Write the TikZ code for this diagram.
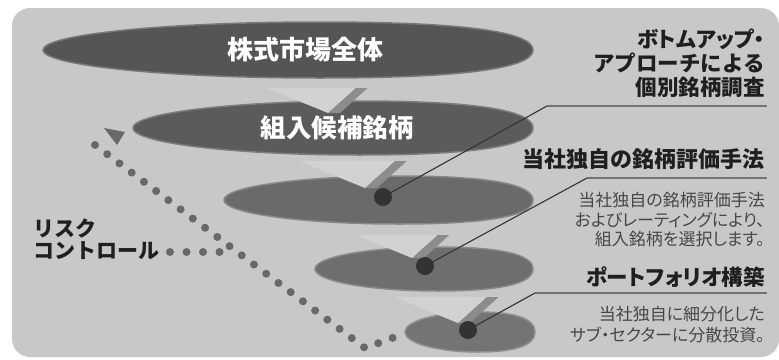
\documentclass[tikz,border=0pt]{standalone}
\usepackage{fontspec}
\newfontfamily\jp{Noto Sans CJK JP}
\newfontfamily\jpp[RawFeature=+palt]{Noto Sans CJK JP}
\definecolor{bg}{HTML}{C8C8C8}
\definecolor{eA}{HTML}{555555}
\definecolor{eB}{HTML}{5B5B5B}
\definecolor{eC}{HTML}{6A6A6A}
\definecolor{eD}{HTML}{6E6E6E}
\definecolor{eE}{HTML}{747474}
\definecolor{arrl}{HTML}{D2D2D2}
\definecolor{arrd}{HTML}{8C8C8C}
\definecolor{riskc}{HTML}{686868}
\newcommand\eggshape[6]{%
 \fill[#6, draw=#6!70!bg, line width=1.5pt] (#1,#4) .. controls (#1,{#4-0.552*#5}) and ({#2-0.552*(#2-#1)},{#4-#5}) .. (#2,{#4-#5}) .. controls ({#2+0.66*(#3-#2)},{#4-#5}) and (#3,{#4-0.66*#5}) .. (#3,#4) .. controls (#3,{#4+0.66*#5}) and ({#2+0.66*(#3-#2)},{#4+#5}) .. (#2,{#4+#5}) .. controls ({#2-0.552*(#2-#1)},{#4+#5}) and (#1,{#4+0.552*#5}) .. cycle;}
\newcommand\chev[3]{%
 \fill[arrd] ({#1+1.1*#3},{#2-#3}) -- ({#1+1.1*#3+12},{#2-#3}) -- ({#1+12},#2) -- (#1,#2) -- cycle;
 \fill[arrl] (#1,#2) -- ({#1-2.45*#3},{#2-#3}) -- ({#1+1.1*#3},{#2-#3}) -- cycle;}
\tikzset{
 intext/.style={text=white, inner sep=0pt, font=\jp\bfseries\fontsize{26}{26}\selectfont},
 hd/.style={text=black!88, inner sep=0pt, anchor=east, font=\jp\bfseries\fontsize{21.5}{24}\selectfont},
 hdp/.style={hd, font=\jpp\bfseries\fontsize{21.5}{24}\selectfont},
 lhd/.style={text=black!88, inner sep=0pt, anchor=west, font=\jp\bfseries\fontsize{21}{24}\selectfont},
 sm/.style={text=black!72, inner sep=0pt, anchor=east, font=\jpp\fontsize{17}{19}\selectfont},
 dotnode/.style={circle, fill=black!80, minimum size=18pt, inner sep=0pt},
 conn/.style={draw=black!80, line width=1.1pt},
 rulel/.style={draw=black!55, line width=2pt},
 riskdots/.style={draw=riskc, line width=8pt, line cap=round, dash pattern=on 0pt off 15.3pt}
}
\begin{document}
\begin{tikzpicture}[x=1pt,y=-1pt]
\useasboundingbox (0,0) rectangle (779,359);
\fill[white] (0,0) rectangle (779,359);
\fill[bg, rounded corners=18pt] (12,8) rectangle (779,357);
% risk control dotted lines
\coordinate (r0) at (95,145);
\coordinate (r1) at (365,348);
\coordinate (r2) at (395,337);
\coordinate (h0) at (170,252);
\coordinate (h1) at (228,252);
\draw[riskdots] (r0) -- (r1) -- (r2);
\draw[riskdots, dash pattern=on 0pt off 16.5pt] (h0) -- (h1);
\fill[riskc] (104,128) -- (125,132) -- (117,145) -- cycle;
% ellipses and arrows
\eggshape{405}{478}{535}{332}{20}{eE}
\chev{458}{323}{26}
\eggshape{315}{438}{533}{269}{22}{eD}
\chev{412}{258}{23}
\eggshape{224}{399}{533}{200}{24}{eC}
\chev{365}{188}{27}
\eggshape{133}{359}{533}{128}{27}{eB}
\chev{328}{113}{25}
\eggshape{43}{320}{533}{50}{28}{eA}
% texts in ellipses
\node[intext] (t1) at (305,50) {株式市場全体};
\node[intext, font=\jp\bfseries\fontsize{25.5}{26}\selectfont] (t2) at (337,128) {組入候補銘柄};
% dots
\node[dotnode] (d3) at (383,197) {};
\node[dotnode] (d4) at (425,266) {};
\node[dotnode] (d5) at (468,330) {};
% connectors
\coordinate (k1) at (547,106);  \coordinate (k1e) at (767,106);
\coordinate (k2) at (587,178);  \coordinate (k2e) at (767,178);
\coordinate (k3) at (535,293);  \coordinate (k3e) at (767,293);
\draw[conn] (d3.center) -- (k1);
\draw[conn] (d4.center) -- (k2);
\draw[conn] (d5.center) -- (k3);
\draw[rulel] (k1) -- (k1e);
\draw[rulel] (k2) -- (k2e);
\draw[rulel] (k3) -- (k3e);
% right texts
\node[hdp] (b1) at (765,39) {ボトムアップ・};
\node[hd] (b2) at (765,63) {アプローチによる};
\node[hd] (b3) at (765,87) {個別銘柄調査};
\node[hd, font=\jp\bfseries\fontsize{22}{24}\selectfont] (c1) at (765,159) {当社独自の銘柄評価手法};
\node[sm] (c2) at (765,200) {当社独自の銘柄評価手法};
\node[sm] (c3) at (765,220) {およびレーティングにより、};
\node[sm] (c4) at (765,239) {組入銘柄を選択します。};
\node[hdp] (p1) at (765,277) {ポートフォリオ構築};
\node[sm] (p2) at (765,314) {当社独自に細分化した};
\node[sm] (p3) at (765,335) {サブ・セクターに分散投資。};
% left texts
\node[lhd] (l1) at (33,228) {リスク};
\node[lhd] (l2) at (33,251) {コントロール};
\end{tikzpicture}
\end{document}
